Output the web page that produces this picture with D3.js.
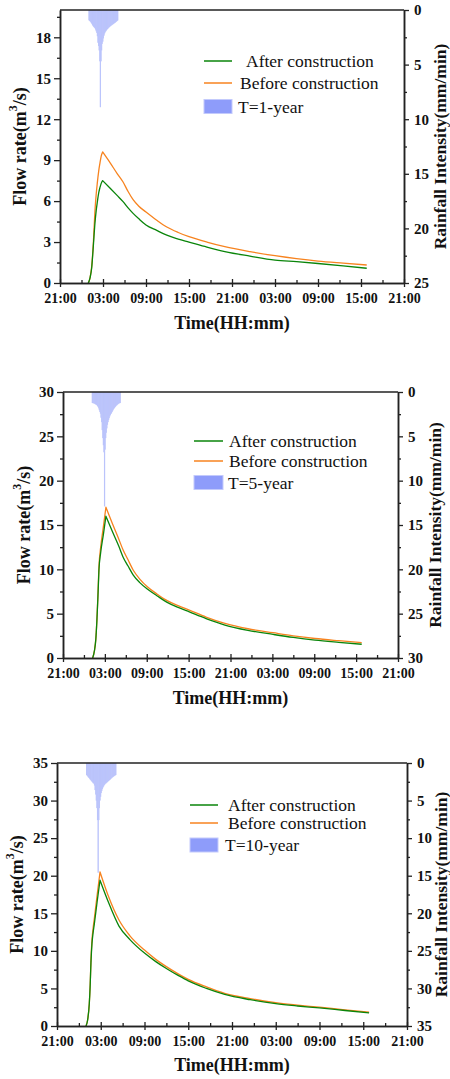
<!DOCTYPE html>
<html><head><meta charset="utf-8">
<script src="https://cdn.jsdelivr.net/npm/d3@7"></script>
<style>body{margin:0;background:#fff}svg{display:block}</style>
</head><body><svg id="c" width="450" height="1079"></svg>
<script>
// ---- shared labels ----
const xTickHours = [0, 6, 12, 18, 24, 30, 36, 42, 48];
const xTickLabels = ["21:00","03:00","09:00","15:00","21:00","03:00","09:00","15:00","21:00"];
const seriesLabels = ["After construction", "Before construction"];
const stormLabels = ["T=1-year", "T=5-year", "T=10-year"];
const flowTitle = "Flow rate(m";
const rainTitle = "Rainfall Intensity(mm/min)";
const timeTitle = "Time(HH:mm)";
const rainStepHours = 5 / 60;

// ---- T=1-year (hours after 21:00, m3/s) ----
const times1  = [3.95, 4.2, 4.42, 4.65, 4.88, 5.05, 5.2, 5.4, 5.58, 5.75, 5.95, 7.0, 8.0, 8.8, 9.5, 10.2, 11.0, 12.0, 13.5, 14.9, 16.5, 18.0, 20.5, 23.0, 26.5, 30.0, 33.0, 36.0, 39.5, 42.8];
const before1 = [0, 0.4, 1.2, 2.9, 5.3, 6.5, 7.3, 8.2, 8.8, 9.3, 9.6, 8.8, 8.0, 7.4, 6.7, 6.1, 5.62, 5.2, 4.6, 4.1, 3.7, 3.4, 3.0, 2.66, 2.3, 2.0, 1.78, 1.6, 1.45, 1.32];
const after1  = [0, 0.4, 1.1, 2.7, 4.4, 5.3, 5.9, 6.6, 7.0, 7.3, 7.5, 6.94, 6.4, 5.96, 5.5, 5.1, 4.7, 4.25, 3.85, 3.5, 3.22, 3.0, 2.63, 2.3, 1.97, 1.68, 1.56, 1.43, 1.26, 1.08];
const rainStart1 = 3.97;
const rain1 = [0.95,1.0,1.05,1.12,1.2,1.3,1.4,1.48,1.55,1.62,1.68,1.8,1.95,2.1,2.4,3.0,3.3,3.7,4.7,8.9,8.9,4.7,3.7,3.1,2.9,2.6,2.35,2.15,2.05,1.95,1.88,1.8,1.74,1.68,1.62,1.57,1.52,1.47,1.43,1.39,1.35,1.31,1.27,1.23,1.19,1.15,1.1,1.05,1.0,0.95];

// ---- T=5-year ----
const times2  = [4.25, 4.5, 4.7, 4.85, 5.0, 5.15, 5.4, 5.8, 6.15, 7.0, 8.0, 8.6, 9.3, 10.07, 11.0, 12.13, 13.5, 14.86, 16.5, 18.1, 20.5, 23.2, 26.5, 30.1, 33.0, 36.1, 39.5, 42.8];
const before2 = [0, 0.8, 2.1, 4.2, 7.0, 10.3, 12.5, 14.9, 17.0, 15.3, 13.4, 12.2, 11.1, 9.9, 8.9, 8.0, 7.2, 6.5, 5.9, 5.4, 4.62, 3.9, 3.3, 2.85, 2.5, 2.2, 1.95, 1.73];
const after2  = [0, 0.8, 2.1, 4.1, 6.8, 9.9, 11.9, 14.0, 16.0, 14.4, 12.6, 11.4, 10.4, 9.35, 8.5, 7.75, 7.0, 6.3, 5.7, 5.2, 4.45, 3.72, 3.12, 2.66, 2.32, 2.02, 1.77, 1.55];
const rainStart2 = 4.12;
const rain2 = [1.24,1.26,1.28,1.3,1.33,1.37,1.41,1.45,1.5,1.58,1.7,1.85,2.05,2.25,2.45,2.9,3.4,4.3,5.2,6.0,6.8,12.9,12.9,6.5,5.2,4.6,4.1,3.7,3.4,3.15,2.95,2.75,2.6,2.48,2.38,2.25,2.12,2.0,1.9,1.8,1.72,1.64,1.56,1.5,1.44,1.38,1.33,1.29,1.26,1.24];

// ---- T=10-year ----
const times3  = [3.98, 4.2, 4.43, 4.55, 4.66, 4.8, 4.95, 5.12, 5.5, 5.9, 7.0, 8.5, 10.0, 12.0, 13.5, 15.0, 16.5, 18.0, 20.5, 23.0, 26.5, 30.0, 33.0, 36.0, 39.5, 42.8];
const before3 = [0, 0.8, 3.0, 5.5, 8.8, 11.5, 13.0, 14.3, 17.4, 20.5, 17.4, 14.1, 12.0, 10.1, 8.9, 7.9, 7.0, 6.2, 5.2, 4.35, 3.65, 3.1, 2.78, 2.5, 2.15, 1.85];
const after3  = [0, 0.8, 3.0, 5.4, 8.5, 11.0, 12.4, 13.6, 16.5, 19.4, 16.6, 13.3, 11.5, 9.7, 8.6, 7.65, 6.8, 6.0, 5.0, 4.2, 3.5, 2.97, 2.66, 2.4, 2.06, 1.75];
const rainStart3 = 3.98;
const rain3 = [1.6,1.7,1.8,1.9,2.0,2.1,2.2,2.3,2.4,2.5,2.6,2.7,2.75,3.0,3.6,4.2,5.0,6.0,7.6,14.6,14.6,7.6,6.0,5.0,4.5,4.0,3.7,3.45,3.25,3.1,2.95,2.85,2.75,2.7,2.62,2.55,2.47,2.4,2.33,2.26,2.18,2.1,2.02,1.95,1.88,1.82,1.76,1.7,1.65,1.6];

const flowMax = [20, 30, 35];
const flowMajor = [3, 5, 5];
const rainMax = [25, 30, 35];
const rainMajor = [5, 5, 5];

const datasets = [
  {times: times1, before: before1, after: after1, rainStart: rainStart1, rain: rain1},
  {times: times2, before: before2, after: after2, rainStart: rainStart2, rain: rain2},
  {times: times3, before: before3, after: after3, rainStart: rainStart3, rain: rain3}
];

// ---- layout ----
const layouts = [
  {x0:60, x1:404, y0:283, y1:10, lt:20, rt:440, tt:323, legX:204, legLen:28, legTX:[246,240,238], legY:[61,83,106.5]},
  {x0:63, x1:398, y0:658, y1:392, lt:24, rt:435, tt:698, legX:194, legLen:29, legTX:[229,229,228], legY:[441,461,482.5]},
  {x0:57, x1:407, y0:1026, y1:763, lt:17, rt:441, tt:1065, legX:190, legLen:28, legTX:[228,228,225], legY:[805,823,845]}
];

const GREEN = "#0a850a", ORANGE = "#f7831f", BAR = "#8e9cfa";
const FONT = "'Liberation Serif', 'Times New Roman', serif";
const AX = "#222";
const svg = d3.select("#c");

function range(a, b, s) { const r = []; for (let v = a; v <= b + 1e-9; v += s) r.push(+v.toFixed(4)); return r; }

function styleAxis(g, size, bold) {
  g.attr("font-family", FONT).attr("font-size", size).attr("font-weight", bold ? "bold" : "normal");
  g.selectAll("path").attr("stroke", AX).attr("stroke-width", 1.5);
  g.selectAll("line").attr("stroke", AX).attr("stroke-width", 1.3);
  g.selectAll("text").attr("fill", "#111");
}

layouts.forEach((L, k) => {
  const D = datasets[k];
  const g = svg.append("g");
  const x = d3.scaleLinear().domain([0, 48]).range([L.x0, L.x1]);
  const y = d3.scaleLinear().domain([0, flowMax[k]]).range([L.y0, L.y1]);
  const yr = d3.scaleLinear().domain([0, rainMax[k]]).range([L.y1, L.y0]);

  // rain bars
  const bw = x(rainStepHours) - x(0);
  g.append("g").selectAll("rect").data(D.rain).join("rect")
    .attr("x", (d, i) => x(D.rainStart + i * rainStepHours))
    .attr("y", yr(0))
    .attr("width", bw)
    .attr("height", d => yr(d) - yr(0))
    .attr("fill", BAR).attr("fill-opacity", 0.72);

  // hydrographs: rising and falling limbs drawn as one path, each limb smoothed monotonically
  const lineGen = d3.line().x(d => x(d[0])).y(d => y(d[1])).curve(d3.curveMonotoneX);
  function hydroPath(vals) {
    const pts = vals.map((v, i) => [D.times[i], v]);
    const pk = d3.maxIndex(vals);
    const rise = lineGen(pts.slice(0, pk + 1));
    const fall = lineGen(pts.slice(pk)).replace(/^M[^CL]*/, "");
    return rise + fall;
  }
  g.append("path").attr("d", hydroPath(D.before)).attr("fill", "none").attr("stroke", ORANGE).attr("stroke-width", 1.3).attr("stroke-linejoin", "round");
  g.append("path").attr("d", hydroPath(D.after)).attr("fill", "none").attr("stroke", GREEN).attr("stroke-width", 1.3).attr("stroke-linejoin", "round");

  // top border
  g.append("line").attr("x1", L.x0).attr("x2", L.x1).attr("y1", L.y1).attr("y2", L.y1).attr("stroke", AX).attr("stroke-width", 1.5);

  // left axis major + minor
  const fm = flowMajor[k];
  const leftMinor = range(0, flowMax[k], fm / 2).filter(v => Math.abs(v / fm - Math.round(v / fm)) > 1e-6);
  g.append("g").attr("transform", `translate(${L.x0},0)`)
    .call(d3.axisLeft(y).tickValues(leftMinor).tickSize(3).tickFormat("").tickSizeOuter(0))
    .call(a => styleAxis(a, 15, true));
  const leftMajor = range(0, flowMax[k], fm);
  g.append("g").attr("transform", `translate(${L.x0},0)`)
    .call(d3.axisLeft(y).tickValues(leftMajor).tickSize(6).tickPadding(3).tickSizeOuter(0).tickFormat(d3.format("d")))
    .call(a => styleAxis(a, 15, true));

  // right axis
  const rm = rainMajor[k];
  const rightMinor = range(0, rainMax[k], rm / 2).filter(v => Math.abs(v / rm - Math.round(v / rm)) > 1e-6);
  g.append("g").attr("transform", `translate(${L.x1},0)`)
    .call(d3.axisRight(yr).tickValues(rightMinor).tickSize(3).tickFormat("").tickSizeOuter(0))
    .call(a => styleAxis(a, 15, true));
  g.append("g").attr("transform", `translate(${L.x1},0)`)
    .call(d3.axisRight(yr).tickValues(range(0, rainMax[k], rm)).tickSize(5).tickPadding(5).tickSizeOuter(0).tickFormat(d3.format("d")))
    .call(a => styleAxis(a, 15, true));

  // bottom axis
  const bMinor = range(3, 45, 6);
  g.append("g").attr("transform", `translate(0,${L.y0})`)
    .call(d3.axisBottom(x).tickValues(bMinor).tickSize(-3).tickFormat("").tickSizeOuter(0))
    .call(a => styleAxis(a, 14, true));
  const bx = g.append("g").attr("transform", `translate(0,${L.y0})`)
    .call(d3.axisBottom(x).tickValues(xTickHours).tickSize(4).tickPadding(6).tickSizeOuter(0)
      .tickFormat((d, i) => xTickLabels[i]))
    .call(a => styleAxis(a, 14, true));
  bx.selectAll(".tick line").attr("y1", -4);

  // titles
  const lt = g.append("text").attr("transform", `translate(${L.lt},${(L.y0 + L.y1) / 2}) rotate(-90)`)
    .attr("text-anchor", "middle").attr("dominant-baseline", "central")
    .attr("font-family", FONT).attr("font-size", 18).attr("font-weight", "bold").attr("fill", "#111");
  lt.append("tspan").text(flowTitle);
  lt.append("tspan").text("3").attr("font-size", 12).attr("dy", -7);
  lt.append("tspan").text("/s)").attr("dy", 7);

  g.append("text").attr("transform", `translate(${L.rt},${(L.y0 + L.y1) / 2}) rotate(-90)`)
    .attr("text-anchor", "middle").attr("dominant-baseline", "central")
    .attr("font-family", FONT).attr("font-size", 17.5).attr("font-weight", "bold").attr("fill", "#111")
    .text(rainTitle);

  g.append("text").attr("x", (L.x0 + L.x1) / 2).attr("y", L.tt)
    .attr("text-anchor", "middle").attr("dominant-baseline", "central")
    .attr("font-family", FONT).attr("font-size", 18).attr("font-weight", "bold").attr("fill", "#111")
    .text(timeTitle);

  // legend
  const colors = [GREEN, ORANGE];
  [0, 1].forEach(j => {
    g.append("line").attr("x1", L.legX).attr("x2", L.legX + L.legLen).attr("y1", L.legY[j]).attr("y2", L.legY[j])
      .attr("stroke", colors[j]).attr("stroke-width", 1.5);
    g.append("text").attr("x", L.legTX[j]).attr("y", L.legY[j]).attr("dominant-baseline", "central")
      .attr("font-family", FONT).attr("font-size", 17.5).attr("fill", "#111").text(seriesLabels[j]);
  });
  g.append("rect").attr("x", L.legX).attr("y", L.legY[2] - 7).attr("width", L.legLen).attr("height", 14)
    .attr("fill", BAR).attr("stroke", "#c3cafc").attr("stroke-width", 1);
  g.append("text").attr("x", L.legTX[2]).attr("y", L.legY[2]).attr("dominant-baseline", "central")
    .attr("font-family", FONT).attr("font-size", 17.5).attr("fill", "#111").text(stormLabels[k]);
});
</script></body></html>
